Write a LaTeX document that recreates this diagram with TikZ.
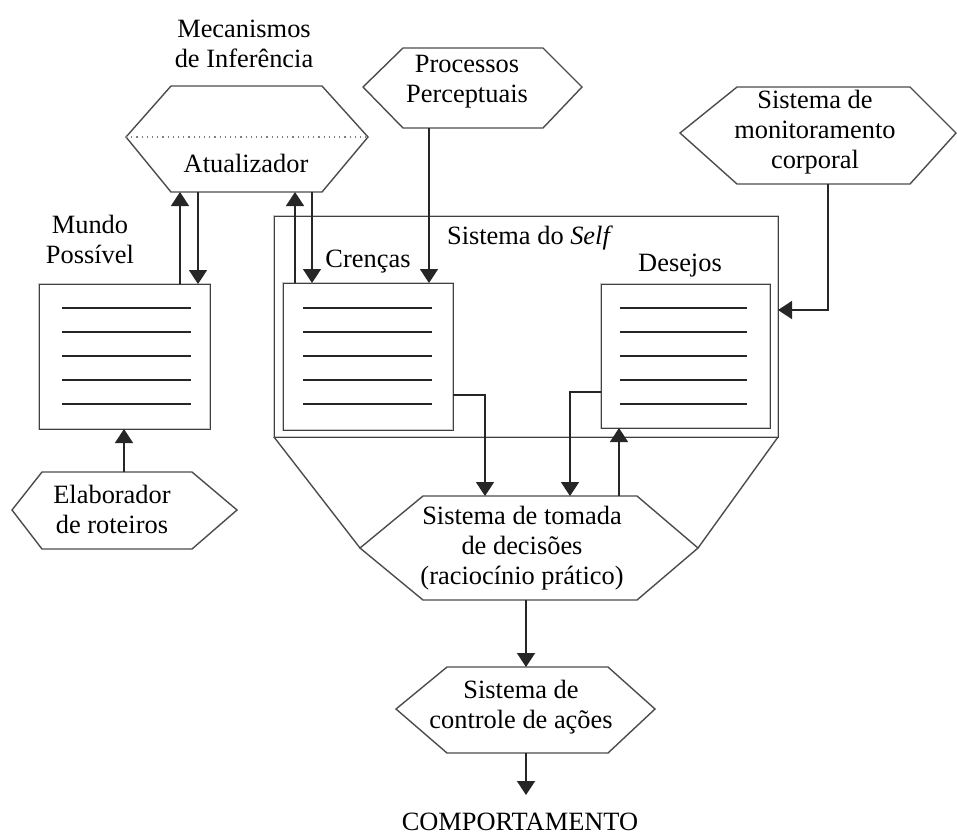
\documentclass[tikz,border=0pt]{standalone}
\usepackage{fontspec}
\setmainfont{Liberation Serif}
\usetikzlibrary{arrows.meta}
\newcommand\hexpath[7]{\draw[hexa] (#1,#6) -- (#2,#5) -- (#3,#5) -- (#4,#6) -- (#3,#7) -- (#2,#7) -- cycle;}
\newcommand\listlines[3]{\foreach \yy in {308,332,356,380,404} \draw[conn] (#1,\yy) -- (#2,\yy);}
\begin{document}
\begin{tikzpicture}[x=0.5pt,y=-0.5pt,
  lbl/.style={font=\fontsize{13.2}{15}\selectfont, align=center, inner sep=0pt},
  conn/.style={draw=black!85, line width=0.8pt},
  arr/.style={conn, -{Triangle[width=9pt,length=7pt]}},
  hexa/.style={draw=black!70, line width=0.7pt},
  listbox/.style={draw=gray!45, line width=1.3pt},
  listedge/.style={draw=black!75, line width=0.5pt}]
\useasboundingbox (0,0) rectangle (957,837);
% hexagons
\hexpath{126}{171}{322}{368}{86}{137}{192}
\draw[gray, dotted, line width=0.6pt] (126,137) -- (368,137);
\hexpath{363}{403}{543}{582}{48}{87}{128}
\hexpath{680}{737}{910}{956}{87}{133}{184}
\hexpath{12}{42}{192}{237}{472}{510}{549}
\hexpath{360}{423}{637}{698}{496}{548}{600}
\hexpath{396}{447}{608}{655}{667}{709}{753}
% Self system box and trapezoid
\draw[listbox] (274,216) rectangle (778,437);
\draw[listedge] (274,216) rectangle (778,437);
\draw[hexa] (274,437) -- (360,548);
\draw[hexa] (778,437) -- (698,548);
% list boxes
\draw[listbox] (39,284) rectangle (210,429);
\draw[listedge] (39,284) rectangle (210,429);
\listlines{62}{191}{}
\draw[listbox] (283,283) rectangle (453,430);
\draw[listedge] (283,283) rectangle (453,430);
\listlines{303}{432}{}
\draw[listbox] (601,284) rectangle (770,428);
\draw[listedge] (601,284) rectangle (770,428);
\listlines{620}{747}{}
% labels
\node[lbl] (mec) at (244,44) {Mecanismos\\de Inferência};
\node[lbl] (atu) at (246,163) {Atualizador};
\node[lbl] (proc) at (467,82) {Processos\\Perceptuais};
\node[lbl] (mon) at (815,132) {Sistema de\\monitoramento\\corporal};
\node[lbl] (mundo) at (90,239) {Mundo\\Possível};
\node[lbl] (self) at (530,238) {Sistema do \textit{Self}};
\node[lbl] (cren) at (368,262) {Crenças};
\node[lbl] (des) at (680,266) {Desejos};
\node[lbl] (elab) at (112,509) {Elaborador\\de roteiros};
\node[lbl] (dec) at (522,548) {Sistema de tomada\\de decisões\\(raciocínio prático)};
\node[lbl] (acao) at (521,707) {Sistema de\\controle de ações};
\node[lbl] (comp) at (520,822) {COMPORTAMENTO};
% connection points
\coordinate (mundoT1) at (180,284); \coordinate (atuB1) at (180,192);
\coordinate (atuB2) at (198,192); \coordinate (mundoT2) at (198,284);
\coordinate (crenT1) at (295,283); \coordinate (atuB3) at (295,192);
\coordinate (atuB4) at (312,192); \coordinate (crenT2) at (312,283);
\coordinate (procB) at (429,128); \coordinate (crenT3) at (429,283);
\coordinate (monB) at (828,184); \coordinate (selfR) at (778,310);
\coordinate (crenR) at (453,395); \coordinate (decT1) at (485,496);
\coordinate (desL) at (601,392); \coordinate (decT2) at (570,496);
\coordinate (decT3) at (619,496); \coordinate (desB) at (619,428);
\coordinate (decB) at (526,600); \coordinate (acaoT) at (526,667);
\coordinate (acaoB) at (526,753); \coordinate (compT) at (526,795);
\coordinate (elabT) at (124,472); \coordinate (mundoB) at (124,429);
% connectors
\draw[arr] (mundoT1) -- (atuB1);
\draw[arr] (atuB2) -- (mundoT2);
\draw[arr] (crenT1) -- (atuB3);
\draw[arr] (atuB4) -- (crenT2);
\draw[arr] (procB) -- (crenT3);
\draw[arr] (monB) |- (selfR);
\draw[arr] (crenR) -| (decT1);
\draw[arr] (desL) -| (decT2);
\draw[arr] (decT3) -- (desB);
\draw[arr] (decB) -- (acaoT);
\draw[arr] (acaoB) -- (compT);
\draw[arr] (elabT) -- (mundoB);
\end{tikzpicture}
\end{document}
